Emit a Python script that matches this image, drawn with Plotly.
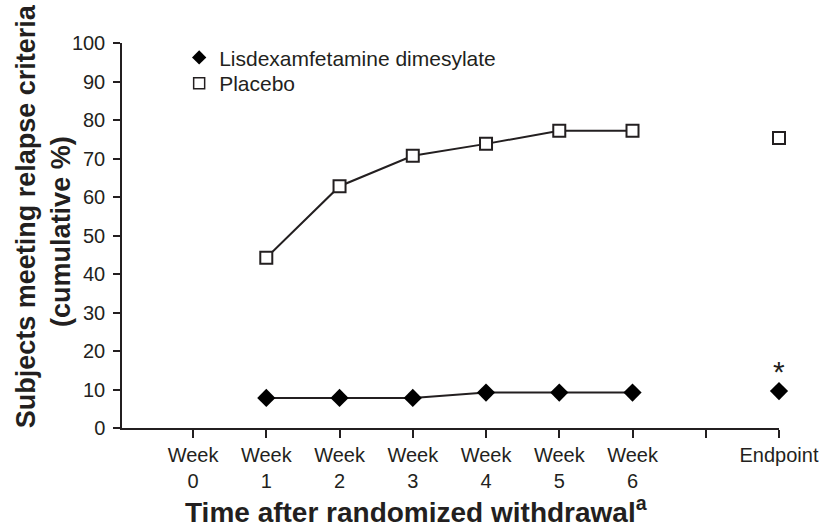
import plotly.graph_objects as go

# x positions: week 0..6 and the endpoint at 8; -1 (axis start) and 7 carry bare ticks
tick_positions = [0, 1, 2, 3, 4, 5, 6, 8]
tick_labels = ["Week<br>0", "Week<br>1", "Week<br>2", "Week<br>3",
               "Week<br>4", "Week<br>5", "Week<br>6", "Endpoint"]
bare_ticks = [-1, 7]

weeks = [1, 2, 3, 4, 5, 6]
ldx_weekly = [7.8, 7.8, 7.8, 9.2, 9.2, 9.2]
placebo_weekly = [44.2, 62.8, 70.7, 73.8, 77.2, 77.2]

endpoint_x = 8
ldx_endpoint = 9.6
placebo_endpoint = 75.3

INK = "#231f20"
FONT = "Liberation Sans, Arial, sans-serif"

fig = go.Figure()

# weekly lines
fig.add_trace(go.Scatter(
    x=weeks, y=placebo_weekly, mode="lines+markers", showlegend=False,
    line=dict(color=INK, width=2),
    marker=dict(symbol="square", size=12, color="white", line=dict(color=INK, width=2)),
    cliponaxis=False,
))
fig.add_trace(go.Scatter(
    x=weeks, y=ldx_weekly, mode="lines+markers", showlegend=False,
    line=dict(color=INK, width=2),
    marker=dict(symbol="diamond", size=14, color="black", line=dict(width=0)),
    cliponaxis=False,
))

# endpoint points (not joined to the weekly line)
fig.add_trace(go.Scatter(
    x=[endpoint_x], y=[placebo_endpoint], mode="markers", showlegend=False,
    marker=dict(symbol="square", size=12, color="white", line=dict(color=INK, width=2)),
    cliponaxis=False,
))
fig.add_trace(go.Scatter(
    x=[endpoint_x], y=[ldx_endpoint], mode="markers", showlegend=False,
    marker=dict(symbol="diamond", size=14, color="black", line=dict(width=0)),
    cliponaxis=False,
))

# legend entries (markers only), one legend box each so the rows sit tight
fig.add_trace(go.Scatter(
    x=[None], y=[None], mode="markers", name="Lisdexamfetamine dimesylate",
    marker=dict(symbol="diamond", size=11, color="black", line=dict(width=0)),
    legend="legend",
))
fig.add_trace(go.Scatter(
    x=[None], y=[None], mode="markers", name="Placebo",
    marker=dict(symbol="square", size=11, color="white", line=dict(color=INK, width=1.5)),
    legend="legend2",
))

fig.add_annotation(x=endpoint_x, y=14.6, xref="x", yref="y", text="*", showarrow=False,
                   font=dict(size=30, color=INK, family=FONT), yanchor="middle")

# axis titles
fig.add_annotation(x=-0.146, y=0.55, xref="paper", yref="paper", textangle=-90,
                   xanchor="center", yanchor="middle",
                   text="<b>Subjects meeting relapse criteria</b>", showarrow=False,
                   font=dict(size=27, color=INK, family=FONT))
fig.add_annotation(x=-0.094, y=0.51, xref="paper", yref="paper", textangle=-90,
                   xanchor="center", yanchor="middle",
                   text="<b>(cumulative %)</b>", showarrow=False,
                   font=dict(size=27, color=INK, family=FONT))
fig.add_annotation(x=0.4475, y=-0.212, xref="paper", yref="paper",
                   xanchor="center", yanchor="middle",
                   text="<b>Time after randomized withdrawal<sup>a</sup></b>", showarrow=False,
                   font=dict(size=28, color=INK, family=FONT))

fig.update_xaxes(
    range=[-0.97, 8], tickvals=tick_positions, ticktext=tick_labels,
    showgrid=False, zeroline=False, showline=True, linecolor=INK, linewidth=1.5,
    ticks="outside", ticklen=8, tickwidth=1.5, tickcolor=INK,
    minor=dict(tickvals=bare_ticks, ticks="outside", ticklen=8, tickwidth=1.5,
               tickcolor=INK, showgrid=False),
    tickfont=dict(size=20, color=INK, family=FONT), automargin=False,
)
fig.update_yaxes(
    range=[0, 100], tickvals=list(range(0, 101, 10)),
    showgrid=False, zeroline=False, showline=True, linecolor=INK, linewidth=1.5,
    ticks="outside", ticklen=7, tickwidth=1.5, tickcolor=INK, ticklabelstandoff=4,
    tickfont=dict(size=20, color=INK, family=FONT), automargin=False,
)

legend_style = dict(xanchor="left", yanchor="top",
                    font=dict(size=21, color=INK, family=FONT),
                    bgcolor="rgba(0,0,0,0)", itemwidth=30)

fig.update_layout(
    width=825, height=527,
    margin=dict(l=122, r=46, t=43, b=99),
    plot_bgcolor="white", paper_bgcolor="white",
    font=dict(family=FONT, color=INK),
    legend=dict(x=0.087, y=1.015, **legend_style),
    legend2=dict(x=0.087, y=0.948, **legend_style),
)

# drop the page's default body margin so the figure sits at the window's corner
fig.write_html("out.html", config={"displayModeBar": False},
               post_script="document.body.style.margin = '0';")
